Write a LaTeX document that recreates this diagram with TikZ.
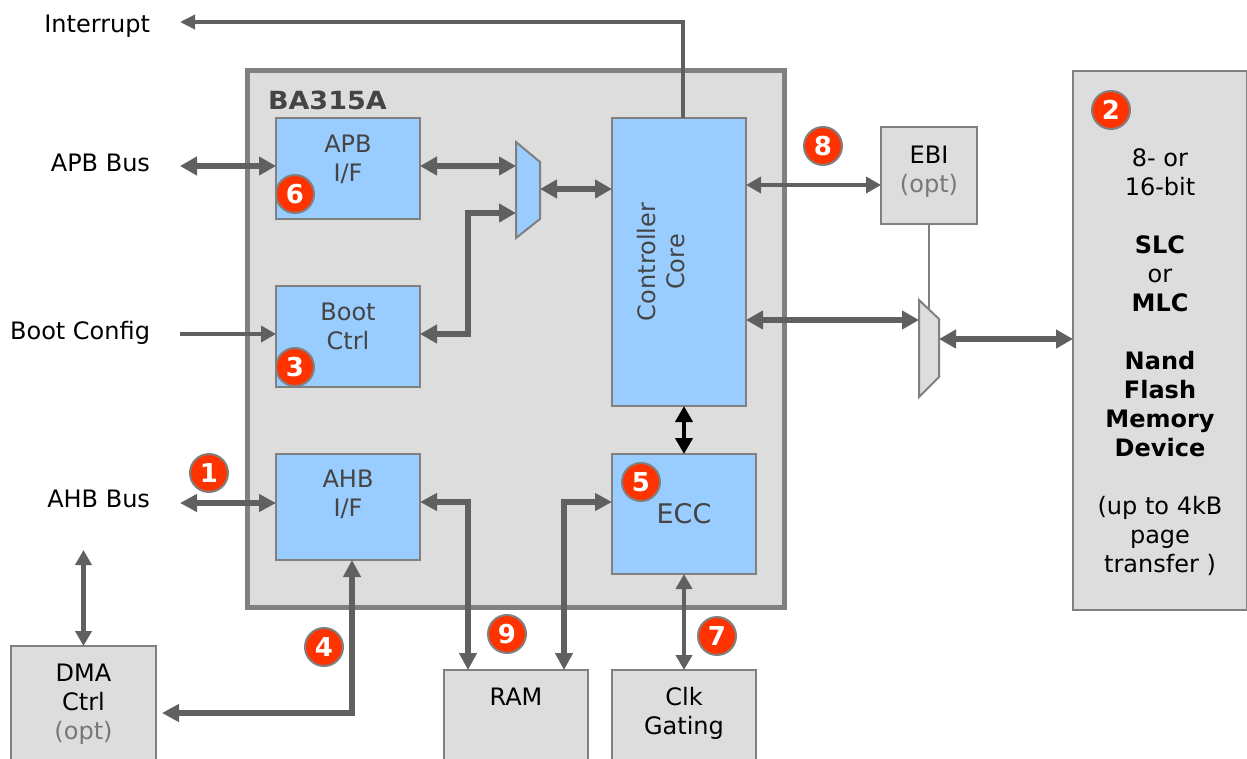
\documentclass[tikz,border=0pt]{standalone}
\usepackage{fontspec}
\usepackage{graphicx}
\setmainfont{DejaVu Sans}
\newfontfamily\titlefont[FakeStretch=1.08]{DejaVu Sans}
\usetikzlibrary{arrows.meta}
\definecolor{wire}{HTML}{606060}
\definecolor{edge}{HTML}{808080}
\definecolor{panel}{HTML}{DDDDDD}
\definecolor{blueb}{HTML}{99CCFF}
\definecolor{inktxt}{HTML}{444444}
\definecolor{opttxt}{HTML}{777777}
\definecolor{badgered}{HTML}{FF3300}
\newcommand\boxtxt[2]{\raisebox{#1}[0pt][0pt]{\begin{tabular}[c]{@{}c@{}}#2\end{tabular}}}
\newcommand\boxtxtr[2]{\makebox[0pt]{\kern#1\rotatebox{90}{\begin{tabular}{@{}c@{}}#2\end{tabular}}}}
\newcommand\opt{\textcolor{opttxt}{(opt)}}
\tikzset{
  txt/.style={font=\fontsize{24}{29}\selectfont,inner sep=0pt,outer sep=0pt},
  bluebox/.style={txt,draw=edge,line width=2pt,fill=blueb,text=inktxt,anchor=north west},
  greybox/.style={txt,draw=edge,line width=2pt,fill=panel,text=black,anchor=north west},
  extlabel/.style={txt,anchor=east,text=black},
  badge/.style={circle,fill=badgered,draw=edge,line width=2pt,minimum size=38pt,inner sep=0pt,text=white,font=\fontsize{26}{26}\bfseries\selectfont},
  bigtip/.style={{Triangle[length=17pt,width=18pt]}-{Triangle[length=17pt,width=18pt]}},
  midtip/.style={{Triangle[length=17pt,width=17pt]}-{Triangle[length=17pt,width=17pt]}},
  slimtip/.style={{Triangle[length=15pt,width=16pt]}-{Triangle[length=15pt,width=16pt]}},
  buswide/.style={draw=wire,line width=6pt,bigtip},
  busmid/.style={draw=wire,line width=5.5pt,midtip},
  busthin/.style={draw=wire,line width=4.5pt,slimtip},
  muxshape/.style={draw=edge,line width=2pt},
}
\begin{document}
\begin{tikzpicture}[x=1pt,y=-1pt]
\useasboundingbox (0,0) rectangle (1247,758);
\clip (0,0) rectangle (1247,758);
\fill[white] (0,0) rectangle (1247,758);

% main block
\node[anchor=north west,draw=edge,line width=5pt,fill=panel,minimum width=537pt,minimum height=537pt,inner sep=0pt,outer sep=0pt] (main) at (247.5,70.5) {};
\node[txt,anchor=west,text=inktxt,font=\titlefont\fontsize{25}{29}\bfseries\selectfont] (title) at (268,100) {BA315A};

% blocks
\node[bluebox,minimum width=144pt,minimum height=101pt] (apb) at (276,118) {\boxtxt{1pt}{APB\\I/F}};
\node[bluebox,minimum width=144pt,minimum height=101pt] (boot) at (276,286) {\boxtxt{1pt}{Boot\\Ctrl}};
\node[bluebox,minimum width=144pt,minimum height=106pt] (ahb) at (276,454) {\boxtxt{5pt}{AHB\\I/F}};
\node[bluebox,minimum width=134pt,minimum height=288pt] (ctrl) at (612,118) {\boxtxtr{-30pt}{Controller\\Core}};
\node[bluebox,minimum width=144pt,minimum height=120pt] (ecc) at (612,454) {\boxtxt{-10pt}{\fontsize{27}{29}\selectfont ECC}};
\node[greybox,minimum width=96pt,minimum height=97pt] (ebi) at (881,127) {\boxtxt{-3pt}{EBI\\\opt}};
\node[greybox,minimum width=174pt,minimum height=539pt] (nand) at (1073,71) {\boxtxt{-29pt}{8- or\\16-bit\\ \\\textbf{SLC}\\or\\\textbf{MLC}\\ \\\textbf{Nand}\\\textbf{Flash}\\\textbf{Memory}\\\textbf{Device}\\ \\(up to 4kB\\page\\transfer )}};
\node[greybox,minimum width=145pt,minimum height=140pt] (dma) at (11,646) {\boxtxt{5pt}{DMA\\Ctrl\\\opt}};
\node[greybox,minimum width=144pt,minimum height=120pt] (ram) at (444,670) {\boxtxt{24pt}{RAM}};
\node[greybox,minimum width=144pt,minimum height=120pt] (clk) at (612,670) {\boxtxt{10pt}{Clk\\Gating}};

% muxes
\draw[muxshape,fill=blueb] (516,142) -- (540,162) -- (540,219) -- (516,238) -- cycle;
\draw[muxshape,fill=panel] (919,300) -- (939,319) -- (939,377) -- (919,397) -- cycle;
\coordinate (muxa1) at (516,166);
\coordinate (muxa2) at (516,213);
\coordinate (muxaOut) at (540,189);
\coordinate (muxb1) at (919,320);
\coordinate (muxbOut) at (939,339);
\coordinate (muxbSel) at (929,309);

% external labels
\node[extlabel] (lint) at (150,26) {Interrupt};
\node[extlabel] (lapb) at (150,163) {APB Bus};
\node[extlabel] (lboot) at (150,333) {Boot Config};
\node[extlabel] (lahb) at (150,499) {AHB Bus};
\coordinate (fint) at (180,22);
\coordinate (fapb) at (180,166);
\coordinate (fboot) at (180,334);
\coordinate (fahb) at (180,503);
\coordinate (fdma) at (83.5,550);

% connectors
\draw[draw=wire,line width=3.5pt,-{Triangle[length=15pt,width=14pt]}] ([xshift=4pt]ctrl.north) |- (fint);
\draw[buswide] (fapb) -- ([yshift=2.5pt]apb.west);
\draw[draw=wire,line width=4.5pt,-{Triangle[length=15pt,width=16pt]}] (fboot) -- ([yshift=2.5pt]boot.west);
\draw[busmid] (fahb) -- (ahb.west |- fahb);
\draw[buswide] ([yshift=2.5pt]apb.east) -- (muxa1);
\draw[buswide] ([yshift=2.5pt]boot.east) -| (468,213) -- (muxa2);
\draw[buswide] (muxaOut) -- ([yshift=73pt]ctrl.west);
\draw[draw=black,line width=4pt,{Triangle[length=16pt,width=17pt]}-{Triangle[length=16pt,width=17pt]}] ([xshift=5pt]ctrl.south) -- (ecc.north);
\draw[busmid] ([yshift=5pt]ahb.east) -| ([xshift=24pt]ram.north west);
\draw[busmid] ([yshift=12pt]ecc.west) -| ([xshift=120pt]ram.north west);
\draw[busthin] (ecc.south) -- (clk.north);
\draw[busmid] ([xshift=4pt]ahb.south) |- (162,713);
\draw[busthin] (fdma) -- (dma.north);
\draw[draw=wire,line width=3.5pt,slimtip] ([yshift=77pt]ctrl.east) -- ([yshift=-9.5pt]ebi.west);
\draw[buswide] ([yshift=-58pt]ctrl.east) -- (muxb1);
\draw[buswide] (muxbOut) -- (nand.west |- muxbOut);
\draw[draw=edge,line width=2pt] (ebi.south) -- (muxbSel);

% badges
\node[badge] (b1) at (209,473) {1};
\node[badge] (b2) at (1111,110) {2};
\node[badge] (b3) at (295,367) {3};
\node[badge] (b4) at (324,647) {4};
\node[badge] (b5) at (641,482) {5};
\node[badge] (b6) at (295,194) {6};
\node[badge] (b7) at (717,636) {7};
\node[badge] (b8) at (823,146) {8};
\node[badge] (b9) at (507,634) {9};
\end{tikzpicture}
\end{document}
